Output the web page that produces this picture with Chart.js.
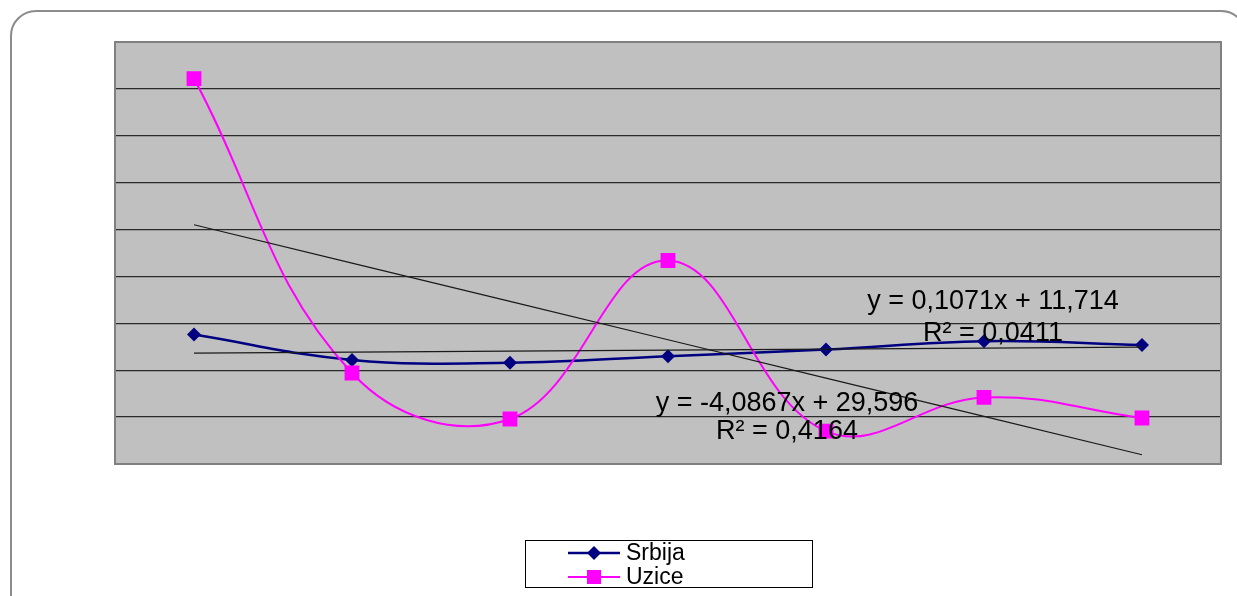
<!DOCTYPE html>
<html>
<head>
<meta charset="utf-8">
<script src="https://cdn.jsdelivr.net/npm/chart.js@4/dist/chart.umd.min.js"></script>
<style>
  html, body { margin: 0; padding: 0; background: #fff; }
  #wrap { width: 1237px; height: 596px; position: relative; }
</style>
</head>
<body>
<div id="wrap"><canvas id="c" width="1237" height="596"></canvas></div>
<script>
// 値は画像から読み取ったもの
const categories = ['1', '2', '3', '4', '5', '6', '7'];
const seriesNames = ['Srbija', 'Uzice'];
const srbija = [13.8, 11.1, 10.8, 11.5, 12.2, 13.1, 12.7];
const uzice = [41.1, 9.7, 4.8, 21.7, 3.5, 7.1, 4.9];
const yMin = 0;
const yMax = 45;
const yStep = 5;

// 近似直線 (グラフに書かれている式)
const trendSlopes = [0.1071, -4.0867];
const trendIntercepts = [11.714, 29.596];
const trendEquations = ['y = 0,1071x + 11,714', 'y = -4,0867x + 29,596'];
const trendR2 = ['R² = 0,0411', 'R² = 0,4164'];

const colors = ['#000080', '#ff00ff'];
const FONT = '"Liberation Sans", Arial, sans-serif';

function trendData(i) {
  return categories.map((_, k) => trendSlopes[i] * (k + 1) + trendIntercepts[i]);
}

const framePlugin = {
  id: 'frame',
  beforeDraw(chart) {
    const { ctx, chartArea: a } = chart;
    ctx.save();
    // 外枠
    ctx.strokeStyle = '#8c8c8c';
    ctx.lineWidth = 2;
    ctx.beginPath();
    ctx.roundRect(11, 11, 1235, 620, 25);
    ctx.stroke();
    // プロットエリア
    ctx.fillStyle = '#c0c0c0';
    ctx.fillRect(a.left, a.top, a.right - a.left, a.bottom - a.top);
    ctx.restore();
  },
  beforeDatasetsDraw(chart) {
    const { ctx, chartArea: a } = chart;
    ctx.save();
    ctx.strokeStyle = '#808080';
    ctx.lineWidth = 2;
    ctx.strokeRect(a.left, a.top, a.right - a.left, a.bottom - a.top);
    ctx.restore();
  },
  afterDatasetsDraw(chart) {
    const { ctx } = chart;
    ctx.save();
    ctx.fillStyle = '#000';
    ctx.font = '27px ' + FONT;
    ctx.textAlign = 'center';
    ctx.textBaseline = 'alphabetic';
    // Srbija の式
    ctx.fillText(trendEquations[0], 993, 309);
    ctx.fillText(trendR2[0], 993, 341);
    // Uzice の式
    ctx.fillText(trendEquations[1], 787, 411);
    ctx.fillText(trendR2[1], 787, 439);
    ctx.restore();
  },
  afterDraw(chart) {
    const { ctx } = chart;
    ctx.save();
    ctx.strokeStyle = '#000';
    ctx.lineWidth = 1;
    ctx.fillStyle = '#fff';
    ctx.fillRect(525.5, 540.5, 287, 47);
    ctx.strokeRect(525.5, 540.5, 287, 47);
    const rows = [553, 577];
    ctx.font = '23px ' + FONT;
    ctx.textBaseline = 'middle';
    seriesNames.forEach((name, i) => {
      const y = rows[i];
      ctx.strokeStyle = colors[i];
      ctx.lineWidth = i === 0 ? 2.5 : 2;
      ctx.beginPath();
      ctx.moveTo(568, y);
      ctx.lineTo(620, y);
      ctx.stroke();
      ctx.fillStyle = colors[i];
      ctx.beginPath();
      if (i === 0) {
        ctx.moveTo(594, y - 7);
        ctx.lineTo(601, y);
        ctx.lineTo(594, y + 7);
        ctx.lineTo(587, y);
        ctx.closePath();
      } else {
        ctx.rect(587, y - 7, 14, 14);
      }
      ctx.fill();
      ctx.fillStyle = '#000';
      ctx.fillText(name, 626, y + 1);
    });
    ctx.restore();
  }
};

new Chart(document.getElementById('c'), {
  type: 'line',
  data: {
    labels: categories,
    datasets: [
      {
        label: seriesNames[0],
        data: srbija,
        borderColor: colors[0],
        backgroundColor: colors[0],
        borderWidth: 2.5,
        pointStyle: 'rectRot',
        pointRadius: 7,
        pointBorderWidth: 0,
        tension: 0.4,
        order: 2
      },
      {
        label: seriesNames[1],
        data: uzice,
        borderColor: colors[1],
        backgroundColor: colors[1],
        borderWidth: 2,
        pointStyle: 'rect',
        pointRadius: 10.5,
        pointBorderWidth: 0,
        tension: 0.4,
        order: 1
      },
      {
        label: 'trend1',
        data: trendData(0),
        borderColor: '#1a1a1a',
        borderWidth: 1.2,
        pointRadius: 0,
        tension: 0,
        order: 0
      },
      {
        label: 'trend2',
        data: trendData(1),
        borderColor: '#1a1a1a',
        borderWidth: 1.2,
        pointRadius: 0,
        tension: 0,
        order: 0
      }
    ]
  },
  options: {
    responsive: false,
    animation: false,
    layout: { padding: { left: 115, top: 42, right: 16, bottom: 132 } },
    plugins: {
      legend: { display: false },
      tooltip: { enabled: false }
    },
    scales: {
      x: {
        offset: true,
        display: false
      },
      y: {
        min: yMin,
        max: yMax,
        ticks: { stepSize: yStep, display: false },
        grid: { color: '#2a2a2a', lineWidth: 1.3, drawTicks: false },
        border: { display: false }
      }
    }
  },
  plugins: [framePlugin]
});
</script>
</body>
</html>
